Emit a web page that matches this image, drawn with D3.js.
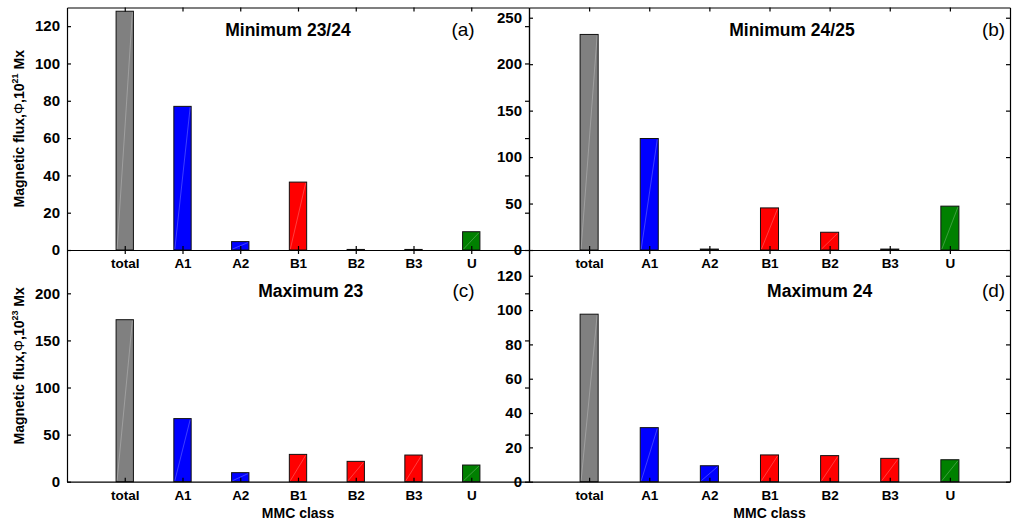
<!DOCTYPE html>
<html>
<head>
<meta charset="utf-8">
<style>
  body { margin: 0; background: #fff; }
  svg { font-family: "Liberation Sans", Arial, Helvetica, sans-serif; }
  .axis path, .axis line { stroke: #000; stroke-width: 1.2; }
  .axis text { font-weight: bold; fill: #000; }
  .title { font-weight: bold; font-size: 17.5px; }
  .letter { font-size: 19px; }
  .ylab { font-weight: bold; font-size: 14px; }
</style>
</head>
<body>
<script src="https://d3js.org/d3.v7.min.js"></script>
<div id="chart"></div>
<script>

var categories = ["total", "A1", "A2", "B1", "B2", "B3", "U"];
var barColors = ["#808080", "#0000ff", "#0000ff", "#ff0000", "#ff0000", "#ff0000", "#008000"];

// magnetic flux per MMC class
var min2324 = [128, 77, 4.5, 36.4, 0.3, 0.3, 9.8];     // 10^21 Mx
var min2425 = [232, 120, 1, 45.3, 19.1, 1, 47.2];      // 10^21 Mx
var max23 = [172, 67, 9.6, 29, 21.6, 28.3, 17.7];      // 10^23 Mx
var max24 = [97.6, 31.5, 9.3, 15.6, 15.2, 13.6, 12.8]; // 10^23 Mx

var ticksA = [0, 20, 40, 60, 80, 100, 120];
var ticksB = [0, 50, 100, 150, 200, 250];
var ticksC = [0, 50, 100, 150, 200];
var ticksD = [0, 20, 40, 60, 80, 100, 120];

var W = 1012, H = 522;

var svg = d3.select("#chart").append("svg")
    .attr("width", W)
    .attr("height", H);

// panel layout
var panels = [
  {vals: min2324, ticks: ticksA, ymax: 130, left: 67, right: 529, top: 7.5, bottom: 250, textY: 36,
   title: "Minimum 23/24", titleX: 2.74, letter: "(a)", letterX: 7.06, exp: "21", xlabel: false},
  {vals: min2425, ticks: ticksB, ymax: 261, left: 529, right: 1010, top: 7.5, bottom: 250, textY: 36,
   title: "Minimum 24/25", titleX: 3.33, letter: "(b)", letterX: 7.92, exp: null, xlabel: false},
  {vals: max23, ticks: ticksC, ymax: 246, left: 67, right: 529, top: 250, bottom: 481.7, textY: 297,
   title: "Maximum 23", titleX: 3.31, letter: "(c)", letterX: 7.06, exp: "23", xlabel: true},
  {vals: max24, ticks: ticksD, ymax: 135, left: 529, right: 1010, top: 250, bottom: 481.7, textY: 297,
   title: "Maximum 24", titleX: 3.96, letter: "(d)", letterX: 7.92, exp: null, xlabel: true}
];

panels.forEach(function(p) {
  var x = d3.scaleLinear().domain([0, 8]).range([p.left, p.right]);
  var y = d3.scaleLinear().domain([0, p.ymax]).range([p.bottom, p.top]);
  var g = svg.append("g");

  // bars
  var bw = x(0.3) - x(0);
  var bars = g.selectAll(".bar")
    .data(p.vals)
    .enter().append("g");
  bars.append("rect")
    .attr("x", function(d, i) { return x(i + 1) - bw / 2; })
    .attr("y", function(d) { return y(d); })
    .attr("width", bw)
    .attr("height", function(d) { return y(0) - y(d); })
    .attr("fill", function(d, i) { return barColors[i]; })
    .attr("stroke", "#111")
    .attr("stroke-width", 1);
  // faint diagonal seam inside bars
  bars.append("line")
    .attr("x1", function(d, i) { return x(i + 1) - bw / 2 + 1; })
    .attr("y1", y(0) - 1)
    .attr("x2", function(d, i) { return x(i + 1) + bw / 2 - 1; })
    .attr("y2", function(d) { return y(d) + 1; })
    .attr("stroke", "#fff")
    .attr("stroke-opacity", function(d) { return y(0) - y(d) > 4 ? 0.35 : 0; })
    .attr("stroke-width", 0.7);

  var catTicks = d3.range(1, 8);

  // left axis with labels
  g.append("g").attr("class", "axis")
    .attr("transform", "translate(" + p.left + ",0)")
    .call(d3.axisLeft(y).tickValues(p.ticks).tickSizeInner(-4).tickSizeOuter(0).tickPadding(7))
    .selectAll("text").style("font-size", "15px");

  // right axis (ticks only)
  g.append("g").attr("class", "axis")
    .attr("transform", "translate(" + p.right + ",0)")
    .call(d3.axisRight(y).tickValues(p.ticks).tickSizeInner(-4).tickSizeOuter(0).tickFormat(""));

  // top axis (ticks only)
  g.append("g").attr("class", "axis")
    .attr("transform", "translate(0," + p.top + ")")
    .call(d3.axisTop(x).tickValues(catTicks).tickSizeInner(-4).tickSizeOuter(0).tickFormat(""));

  // bottom axis with category labels
  g.append("g").attr("class", "axis")
    .attr("transform", "translate(0," + p.bottom + ")")
    .call(d3.axisBottom(x).tickValues(catTicks).tickSizeInner(-4).tickSizeOuter(0).tickPadding(8.5)
      .tickFormat(function(d) { return categories[d - 1]; }))
    .selectAll("text").style("font-size", "13.5px");

  // title and panel letter
  g.append("text").attr("class", "title")
    .attr("x", x(p.titleX)).attr("y", p.textY)
    .text(p.title);
  g.append("text").attr("class", "letter")
    .attr("x", x(p.letterX)).attr("y", p.textY)
    .attr("text-anchor", "end")
    .text(p.letter);

  if (p.exp) {
    var t = g.append("text").attr("class", "ylab")
      .attr("transform", "translate(24," + ((p.top + p.bottom) / 2) + ") rotate(-90)")
      .attr("text-anchor", "middle");
    t.append("tspan").text("Magnetic flux,");
    t.append("tspan").style("font-weight", "normal").text("Φ");
    t.append("tspan").text(",10");
    t.append("tspan").attr("dy", -6).style("font-size", "9px").text(p.exp);
    t.append("tspan").attr("dy", 6).text(" Mx");
  }

  if (p.xlabel) {
    g.append("text")
      .attr("x", (p.left + p.right) / 2)
      .attr("y", 518)
      .attr("text-anchor", "middle")
      .style("font-weight", "bold")
      .style("font-size", "14px")
      .text("MMC class");
  }
});

</script>
</body>
</html>
